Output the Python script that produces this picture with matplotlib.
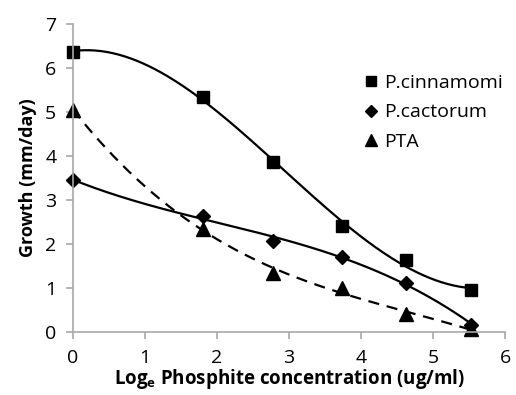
import numpy as np
import matplotlib
matplotlib.use("Agg")
import matplotlib.pyplot as plt

plt.rcParams['font.family'] = ['Open Sans', 'DejaVu Sans']
plt.rcParams['mathtext.fontset'] = 'custom'
plt.rcParams['mathtext.rm'] = 'Open Sans'
plt.rcParams['mathtext.bf'] = 'Open Sans:bold'

# log_e phosphite concentration
conc = [0.0, 1.8, 2.78, 3.74, 4.62, 5.53]

cinnamomi = [6.37, 5.33, 3.86, 2.40, 1.63, 0.95]
cactorum = [3.45, 2.63, 2.07, 1.71, 1.11, 0.17]
pta = [5.05, 2.35, 1.35, 1.00, 0.40, 0.06]

fig = plt.figure(figsize=(5.16, 3.95), dpi=100)
ax = fig.add_axes([0.1415, 0.1595, 0.8375, 0.78])

x = np.array(conc)
xs = np.linspace(x.min(), x.max(), 200)

# polynomial trend lines like the spreadsheet ones
series = [
    (cinnamomi, 's', '-', 'P.cinnamomi', 8.5),
    (cactorum, 'D', '-', 'P.cactorum', 7.5),
    (pta, '^', '--', 'PTA', 10),
]
for y, marker, ls, label, ms in series:
    coef = np.polyfit(x, y, 3)
    ax.plot(xs, np.polyval(coef, xs), color='black', ls=ls, lw=1.6,
            dashes=(5, 3.5) if ls == '--' else (None, None))
    ax.plot(x, y, marker=marker, ls='none', color='black', ms=ms,
            label=label, clip_on=False)

ax.set_xlim(0, 6)
ax.set_ylim(0, 7)
ax.set_xticks(range(0, 7))
ax.set_yticks(range(0, 8))

for side in ['top', 'right']:
    ax.spines[side].set_visible(False)
for side in ['left', 'bottom']:
    ax.spines[side].set_color('#a8a8a8')
    ax.spines[side].set_linewidth(1.2)
ax.tick_params(direction='out', length=5, width=1.2, color='#a8a8a8',
               labelsize=14, pad=7)

ax.set_ylabel('Growth (mm/day)', fontsize=13, fontweight='bold', labelpad=6)
ax.set_xlabel(r'Log$_{\mathbf{e}}$ Phosphite concentration (ug/ml)',
              fontsize=13.5, fontweight='bold', labelpad=0)

ax.legend(loc='upper left', bbox_to_anchor=(0.625, 0.895), frameon=False,
          fontsize=14, handletextpad=0.1, handlelength=1.1, labelspacing=0.6,
          markerscale=0.85)

fig.savefig('out.png', dpi=100)
